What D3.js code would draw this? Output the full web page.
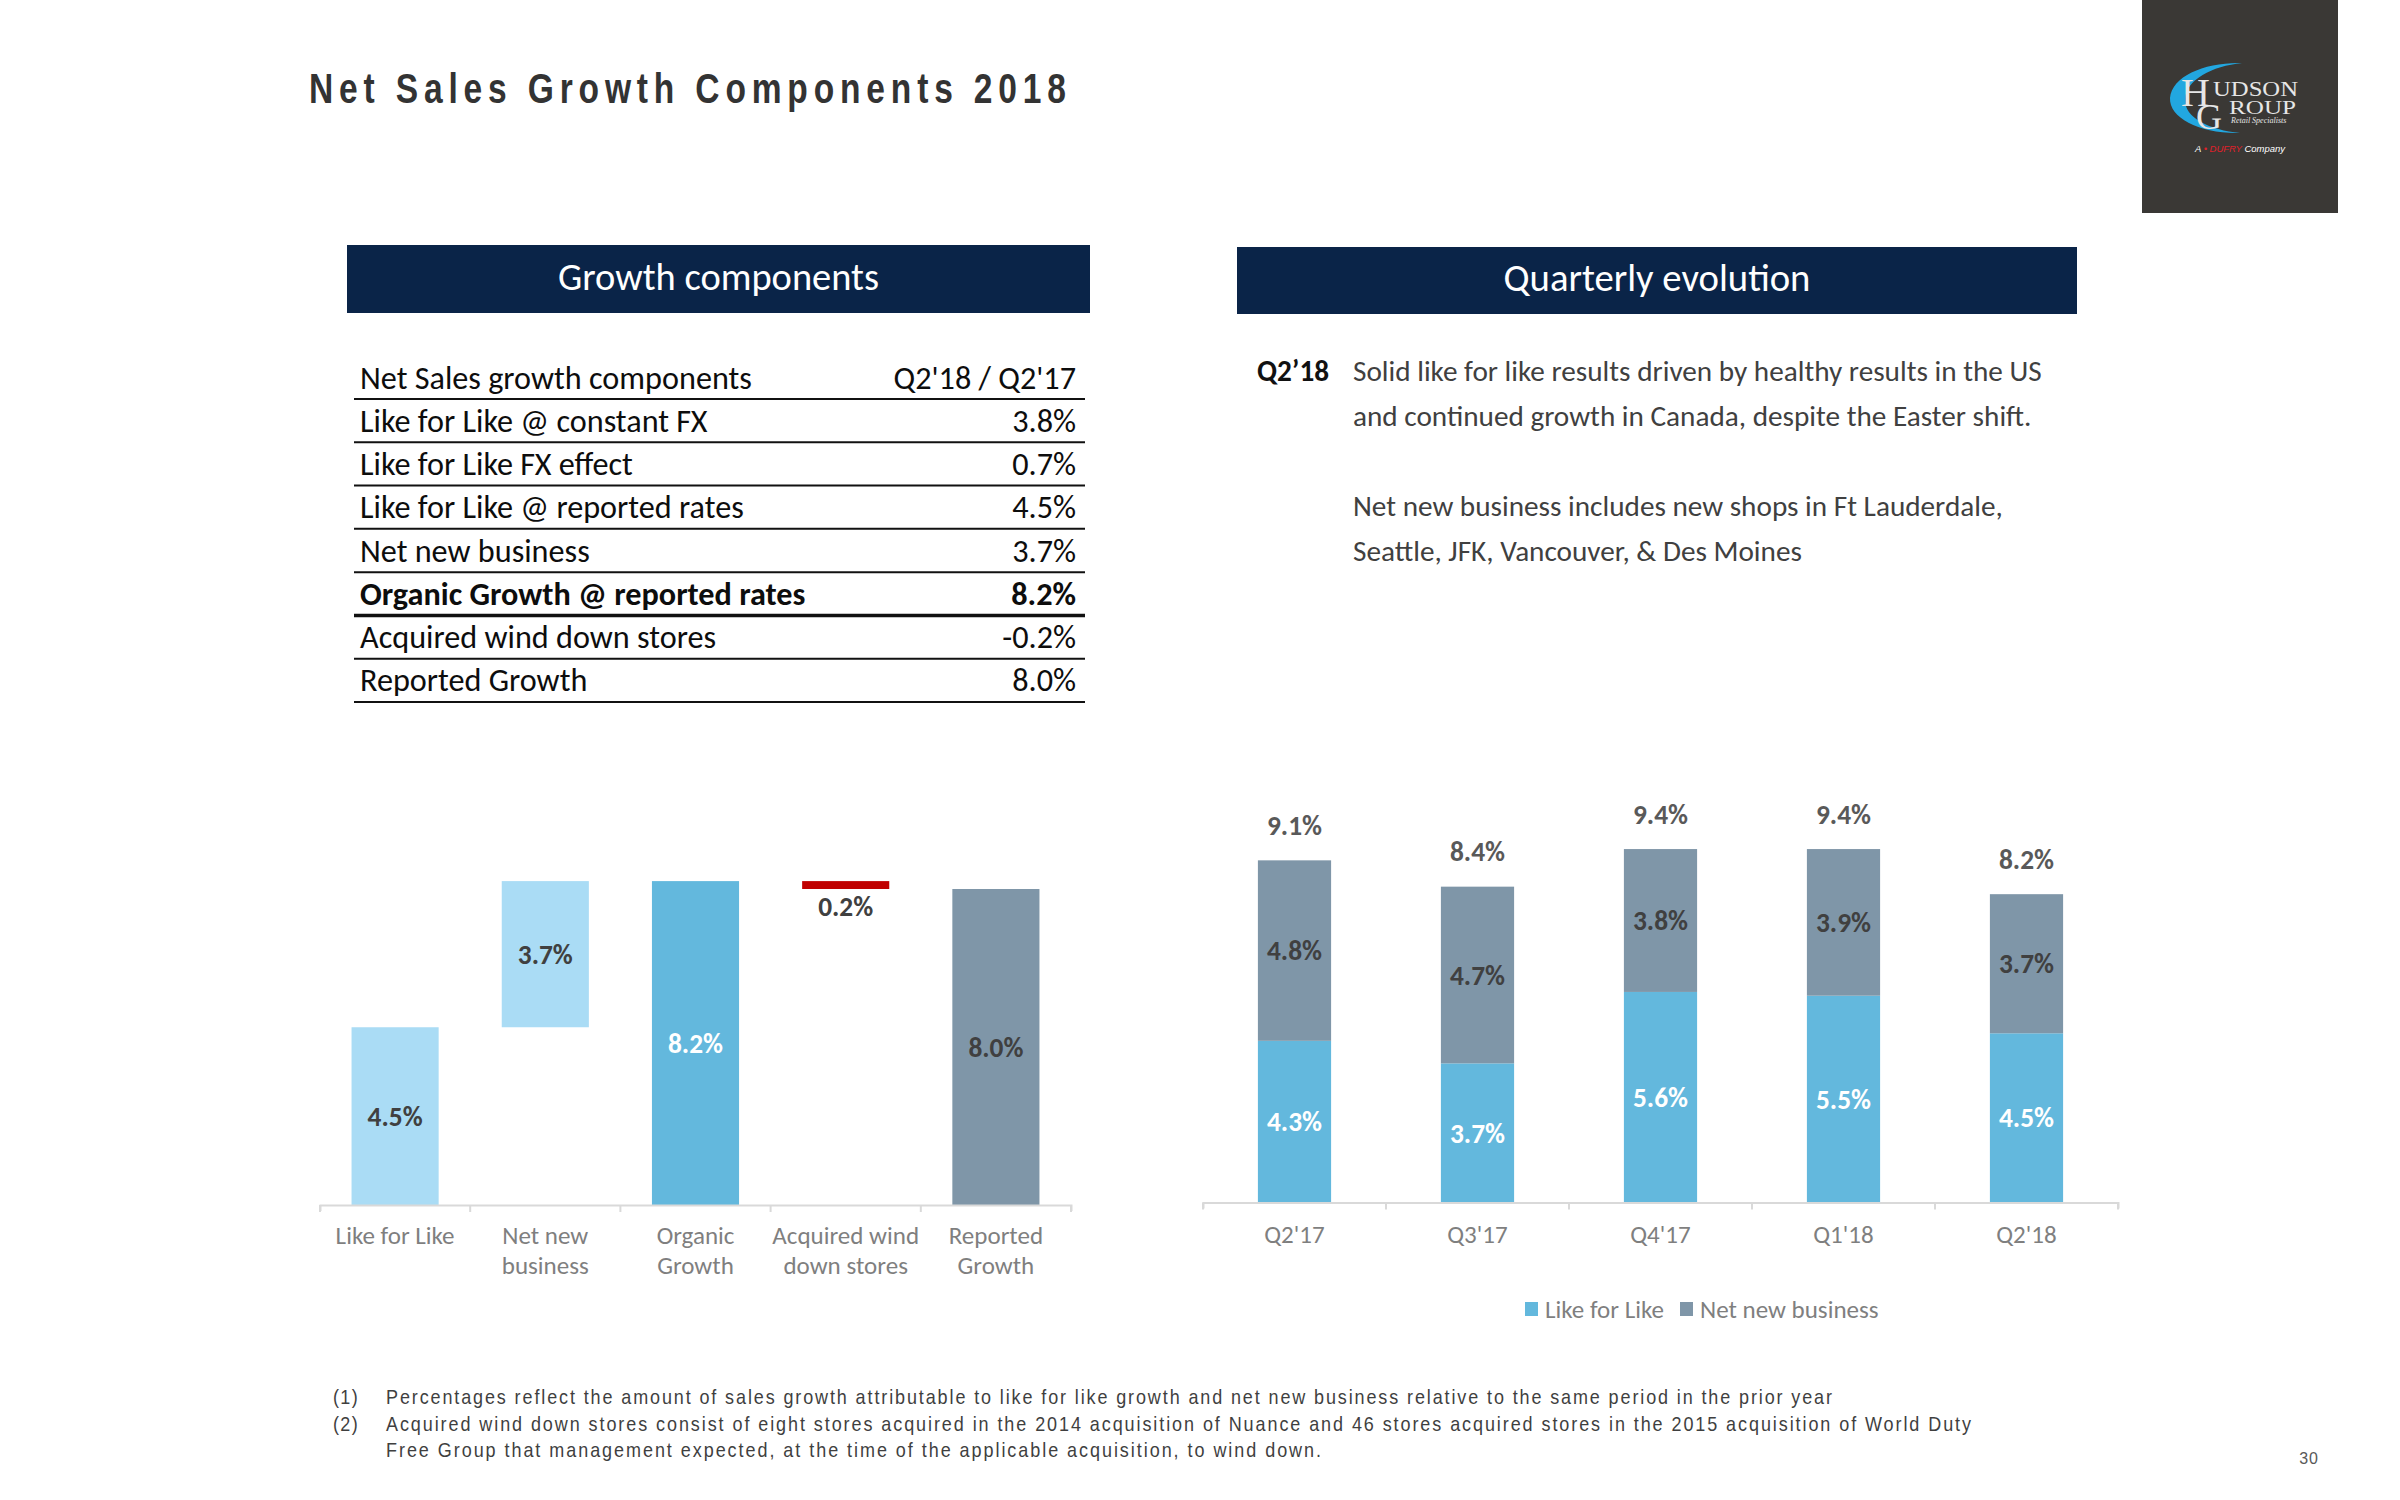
<!DOCTYPE html>
<html><head><meta charset="utf-8">
<script src="https://cdn.jsdelivr.net/npm/d3@7"></script>
<style>html,body{margin:0;padding:0;background:#fff}svg{display:block}</style>
</head><body><svg id="c" width="2400" height="1500"></svg>
<script>
// ---------------- data ----------------
const titleText = "Net Sales Growth Components 2018";
const leftHeader = "Growth components";
const rightHeader = "Quarterly evolution";
const tableHeader = ["Net Sales growth components", "Q2'18 / Q2'17"];
const tableLabels = ["Like for Like @ constant FX", "Like for Like FX effect", "Like for Like @ reported rates", "Net new business", "Organic Growth @ reported rates", "Acquired wind down stores", "Reported Growth"];
const tableValues = ["3.8%", "0.7%", "4.5%", "3.7%", "8.2%", "-0.2%", "8.0%"];
const tableBold = [false, false, false, false, true, false, false];
const commentaryTag = "Q2\u201918";
const commentaryLines = ["Solid like for like results driven by healthy results in the US", "and continued growth in Canada, despite the Easter shift.", "", "Net new business includes new shops in Ft Lauderdale,", "Seattle, JFK, Vancouver, & Des Moines"];
const waterfallCategories = [["Like for Like"], ["Net new", "business"], ["Organic", "Growth"], ["Acquired wind", "down stores"], ["Reported", "Growth"]];
const waterfallValues = [4.5, 3.7, 8.2, -0.2, 8.0];
const waterfallIsTotal = [false, false, true, false, true];
const quarters = ["Q2'17", "Q3'17", "Q4'17", "Q1'18", "Q2'18"];
const likeForLike = [4.3, 3.7, 5.6, 5.5, 4.5];
const netNewBusiness = [4.8, 4.7, 3.8, 3.9, 3.7];
const quarterTotals = [9.1, 8.4, 9.4, 9.4, 8.2];
const seriesNames = ["Like for Like", "Net new business"];
const footnoteMarks = ["(1)", "(2)", ""];
const footnoteLines = [
  "Percentages reflect the amount of sales growth attributable to like for like growth and net new business relative to the same period in the prior year",
  "Acquired wind down stores consist of eight stores acquired in the 2014 acquisition of Nuance and 46 stores acquired stores in the 2015 acquisition of World Duty",
  "Free Group that management expected, at the time of the applicable acquisition, to wind down."
];
const pageNumber = "30";

// ---------------- helpers ----------------
const svg = d3.select("#c");
const SANS = "Carlito, Lato, 'Open Sans', sans-serif";
const ARIAL = "'Liberation Sans', Arial, sans-serif";
function fitSize(str, family, weight, target) {
  const t = svg.append("text").attr("font-family", family).attr("font-weight", weight).attr("font-size", 100).text(str);
  const w = t.node().getComputedTextLength();
  t.remove();
  return 100 * target / w;
}
const fmt = v => d3.format(".1f")(Math.abs(v)) + "%";

// ---------------- title (narrowed, letter-spaced) ----------------
const titleSX = 0.78;
svg.append("text").attr("transform", `translate(309,103) scale(${titleSX},1)`)
  .attr("font-family", ARIAL).attr("font-weight", "bold").attr("font-size", 43)
  .attr("fill", "#333333").attr("textLength", 757 / titleSX).attr("lengthAdjust", "spacing")
  .text(titleText);

// ---------------- logo ----------------
const logo = svg.append("g");
logo.append("rect").attr("x", 2142).attr("y", 0).attr("width", 196).attr("height", 213).attr("fill", "#3a3835");
logo.append("path").attr("d", "M2242,63 C2205,62 2172,76 2170,98 C2169,118 2200,134 2240,133 C2210,130 2184,118 2185,99 C2186,80 2212,66 2242,63 Z").attr("fill", "#22a7e0");
const serif = "'Liberation Serif', 'DejaVu Serif', serif";
logo.append("text").attr("x", 2181).attr("y", 106).attr("font-family", serif).attr("font-size", 40).attr("fill", "#e6e6e6").text("H");
logo.append("text").attr("x", 2213).attr("y", 96).attr("font-family", serif).attr("font-size", 21).attr("fill", "#e6e6e6").attr("textLength", 85).attr("lengthAdjust", "spacingAndGlyphs").text("UDSON");
logo.append("text").attr("x", 2196).attr("y", 129).attr("font-family", serif).attr("font-size", 36).attr("fill", "#e6e6e6").text("G");
logo.append("text").attr("x", 2229).attr("y", 114).attr("font-family", serif).attr("font-size", 19).attr("fill", "#e6e6e6").attr("textLength", 67).attr("lengthAdjust", "spacingAndGlyphs").text("ROUP");
logo.append("text").attr("x", 2231).attr("y", 123).attr("font-family", serif).attr("font-style", "italic").attr("font-size", 8).attr("fill", "#e6e6e6").text("Retail Specialists");
const comp = logo.append("text").attr("x", 2195).attr("y", 152).attr("font-family", ARIAL).attr("font-style", "italic").attr("font-size", 9.5).attr("fill", "#ffffff");
comp.append("tspan").text("A ");
comp.append("tspan").attr("fill", "#e0202a").text("\u2022 DUFRY ");
comp.append("tspan").text("Company");

// ---------------- section headers ----------------
const NAVY = "#0a2448";
[[347, 245, 743, 68, leftHeader, 321, 290], [1237, 247, 840, 67, rightHeader, 307, 291]].forEach(h => {
  svg.append("rect").attr("x", h[0]).attr("y", h[1]).attr("width", h[2]).attr("height", h[3]).attr("fill", NAVY);
  svg.append("text").attr("x", h[0] + h[2] / 2).attr("y", h[6]).attr("text-anchor", "middle")
    .attr("font-family", SANS).attr("font-size", fitSize(h[4], SANS, "normal", h[5]))
    .attr("fill", "#ffffff").text(h[4]);
});

// ---------------- table ----------------
const tableSize = fitSize(tableHeader[0], SANS, "normal", 392);
const rowY = d3.scaleLinear().domain([0, 7]).range([389, 691]);
const lineY = d3.scaleLinear().domain([0, 7]).range([399, 702]);
const rows = [{ l: tableHeader[0], v: tableHeader[1], b: false }].concat(tableLabels.map((l, i) => ({ l, v: tableValues[i], b: tableBold[i] })));
const tg = svg.append("g").attr("font-family", SANS).attr("font-size", tableSize).attr("fill", "#0d0d0d");
rows.forEach((r, i) => {
  tg.append("text").attr("x", 360).attr("y", rowY(i)).attr("font-weight", r.b ? "bold" : "normal").text(r.l);
  tg.append("text").attr("x", 1076).attr("y", rowY(i)).attr("text-anchor", "end").attr("font-weight", r.b ? "bold" : "normal").text(r.v);
  tg.append("line").attr("x1", 354).attr("x2", 1085).attr("y1", lineY(i)).attr("y2", lineY(i))
    .attr("stroke", "#111").attr("stroke-width", r.b ? 3.5 : 2);
});

// ---------------- commentary ----------------
const comSize = fitSize(commentaryLines[0], SANS, "normal", 689);
const comY = [381, 426, 471, 516, 561];
svg.append("text").attr("x", 1257).attr("y", comY[0]).attr("font-family", SANS).attr("font-weight", "bold")
  .attr("font-size", comSize).attr("fill", "#111").text(commentaryTag);
commentaryLines.forEach((t, i) => {
  if (!t) return;
  svg.append("text").attr("x", 1353).attr("y", comY[i]).attr("font-family", SANS)
    .attr("font-size", comSize).attr("fill", "#404040").text(t);
});

// ---------------- common chart styles ----------------
const catSize = fitSize("Like for Like", SANS, "normal", 119);
const valSize = fitSize("3.7%", SANS, "bold", 55);
const AXIS = "#d9d9d9";
const CATC = "#7f7f7f";

function drawBaseAxis(x, yBase) {
  const ax = svg.append("g").attr("transform", `translate(0,${yBase})`)
    .call(d3.axisBottom(x).tickSize(0).tickSizeOuter(6).tickFormat(""));
  ax.select(".domain").attr("stroke", AXIS).attr("stroke-width", 2);
  const r = x.range();
  const bounds = d3.range(x.domain().length + 1).map(i => r[0] + i * x.step());
  ax.selectAll(".bt").data(bounds).join("line").attr("class", "bt")
    .attr("x1", d => d).attr("x2", d => d).attr("y1", 0).attr("y2", 7)
    .attr("stroke", AXIS).attr("stroke-width", 2);
  return ax;
}

// ---------------- waterfall ----------------
const wIdx = d3.range(waterfallValues.length);
const wx = d3.scaleBand().domain(wIdx).range([320, 1071]).paddingInner(0.42).paddingOuter(0.21);
const wy = d3.scaleLinear().domain([0, 10]).range([1205, 810]);
let run = 0;
const wData = waterfallValues.map((v, i) => {
  let a, b;
  if (waterfallIsTotal[i]) { a = 0; b = v; run = v; } else { a = run; b = run + v; run = run + v; }
  return { i, v, lo: Math.min(a, b), hi: Math.max(a, b) };
});
const wFill = ["#aadcf5", "#aadcf5", "#63b8dd", "#c00000", "#7f96a8"];
const wLabC = ["#404040", "#404040", "#ffffff", "#404040", "#404040"];
svg.append("g").selectAll("rect").data(wData).join("rect")
  .attr("x", d => wx(d.i)).attr("width", wx.bandwidth())
  .attr("y", d => wy(d.hi)).attr("height", d => wy(d.lo) - wy(d.hi))
  .attr("fill", d => wFill[d.i]);
drawBaseAxis(wx, 1205);
svg.append("g").selectAll("text").data(wData).join("text")
  .attr("x", d => wx(d.i) + wx.bandwidth() / 2)
  .attr("y", d => d.v < 0 ? wy(d.lo) + 17 : (wy(d.lo) + wy(d.hi)) / 2)
  .attr("dy", "0.35em").attr("text-anchor", "middle")
  .attr("font-family", SANS).attr("font-weight", "bold").attr("font-size", valSize)
  .attr("fill", d => wLabC[d.i]).text(d => fmt(d.v));
const wl = svg.append("g").attr("font-family", SANS).attr("font-size", catSize).attr("fill", CATC).attr("text-anchor", "middle");
waterfallCategories.forEach((lines, i) => {
  const t = wl.append("text").attr("x", wx(i) + wx.bandwidth() / 2);
  lines.forEach((ln, k) => t.append("tspan").attr("x", wx(i) + wx.bandwidth() / 2).attr("y", 1244 + k * 30).text(ln));
});

// ---------------- stacked quarterly chart ----------------
const qx = d3.scaleBand().domain(quarters).range([1203, 2118]).paddingInner(0.6).paddingOuter(0.3);
const qy = d3.scaleLinear().domain([0, 10]).range([1202.5, 826.5]);
const stackData = quarters.map((q, i) => ({ q, lfl: likeForLike[i], nnb: netNewBusiness[i], tot: quarterTotals[i] }));
const stack = d3.stack().keys(["lfl", "nnb"])(stackData);
const qFill = { lfl: "#63b8dd", nnb: "#7f96a8" };
const qLab = { lfl: "#ffffff", nnb: "#404040" };
stack.forEach(s => {
  const g = svg.append("g");
  g.selectAll("rect").data(s).join("rect")
    .attr("x", d => qx(d.data.q)).attr("width", qx.bandwidth())
    .attr("y", d => qy(d[1])).attr("height", d => qy(d[0]) - qy(d[1]))
    .attr("fill", qFill[s.key]);
  g.selectAll("text").data(s).join("text")
    .attr("x", d => qx(d.data.q) + qx.bandwidth() / 2)
    .attr("y", d => (qy(d[0]) + qy(d[1])) / 2).attr("dy", "0.35em")
    .attr("text-anchor", "middle").attr("font-family", SANS).attr("font-weight", "bold")
    .attr("font-size", valSize).attr("fill", qLab[s.key])
    .text(d => fmt(d.data[s.key]));
});
svg.append("g").selectAll("text").data(stackData).join("text")
  .attr("x", d => qx(d.q) + qx.bandwidth() / 2)
  .attr("y", d => qy(d.tot) - 35).attr("dy", "0.35em")
  .attr("text-anchor", "middle").attr("font-family", SANS).attr("font-weight", "bold")
  .attr("font-size", valSize).attr("fill", "#595959").text(d => fmt(d.tot));
drawBaseAxis(qx, 1202.5);
svg.append("g").selectAll("text").data(quarters).join("text")
  .attr("x", d => qx(d) + qx.bandwidth() / 2).attr("y", 1243)
  .attr("text-anchor", "middle").attr("font-family", SANS).attr("font-size", catSize)
  .attr("fill", CATC).text(d => d);

// legend
const legX = [1525, 1680];
const lg = svg.append("g");
seriesNames.forEach((n, i) => {
  const key = i === 0 ? "lfl" : "nnb";
  lg.append("rect").attr("x", legX[i]).attr("y", 1302).attr("width", 13).attr("height", 14).attr("fill", qFill[key]);
  lg.append("text").attr("x", legX[i] + 20).attr("y", 1309).attr("dy", "0.35em")
    .attr("font-family", SANS).attr("font-size", catSize).attr("fill", CATC).text(n);
});

// ---------------- footnotes ----------------
const fnY = [1404, 1431, 1457];
const fnW = [1446, 1585, 935];
const fnSX = 0.9;
const fg = svg.append("g").attr("font-family", ARIAL).attr("font-size", 20).attr("fill", "#3f3f3f");
footnoteLines.forEach((t, i) => {
  if (footnoteMarks[i]) fg.append("text").attr("transform", `translate(333,${fnY[i]}) scale(${fnSX},1)`).attr("letter-spacing", 1.5).text(footnoteMarks[i]);
  fg.append("text").attr("transform", `translate(386,${fnY[i]}) scale(${fnSX},1)`)
    .attr("textLength", fnW[i] / fnSX).attr("lengthAdjust", "spacing").text(t);
});
svg.append("text").attr("x", 2319).attr("y", 1464).attr("text-anchor", "end")
  .attr("font-family", ARIAL).attr("font-size", 16).attr("letter-spacing", 1).attr("fill", "#595959").text(pageNumber);
</script>
</body></html>
